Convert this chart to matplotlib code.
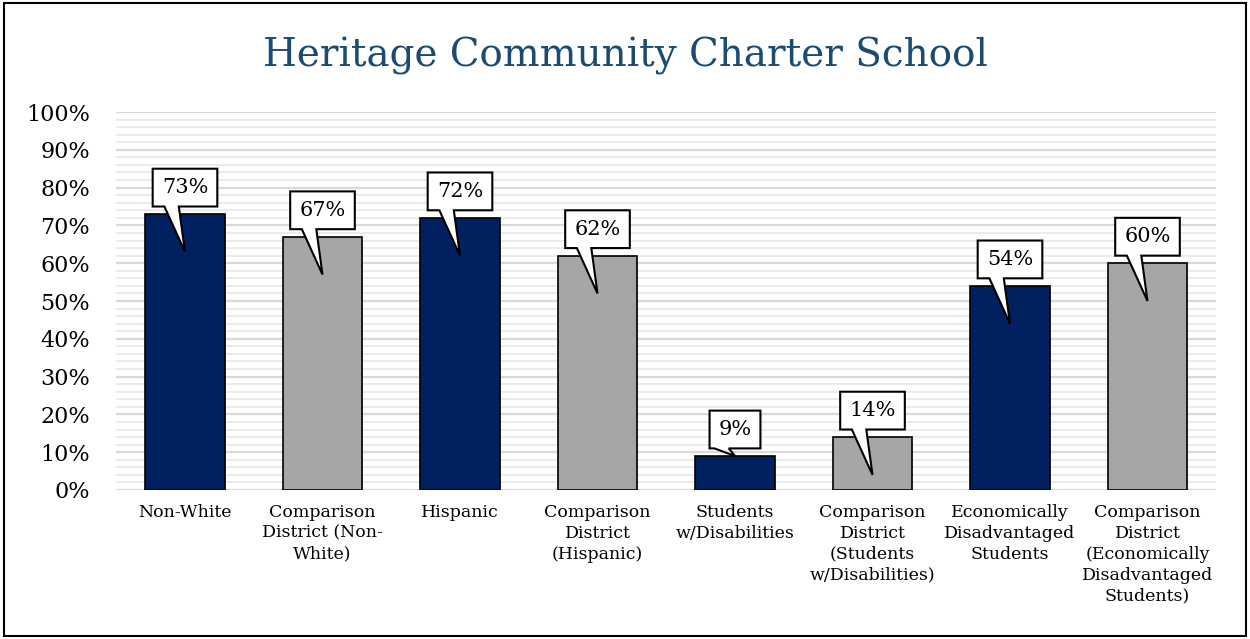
import numpy as np
import matplotlib.pyplot as plt
import matplotlib.patheffects as pe
from matplotlib.patches import Polygon, Rectangle
from matplotlib.ticker import MultipleLocator, PercentFormatter

# ==============================
# DATA
# ==============================
categories = [
    "Non-White",
    "Comparison\nDistrict (Non-\nWhite)",
    "Hispanic",
    "Comparison\nDistrict\n(Hispanic)",
    "Students\nw/Disabilities",
    "Comparison\nDistrict\n(Students\nw/Disabilities)",
    "Economically\nDisadvantaged\nStudents",
    "Comparison\nDistrict\n(Economically\nDisadvantaged\nStudents)",
]
values = [73, 67, 72, 62, 9, 14, 54, 60]
school_color = "#002060"
district_color = "#A6A6A6"
bar_colors = [school_color, district_color] * 4

plt.rcParams['font.family'] = ['DejaVu Serif']

# ==============================
# FIGURE
# ==============================
fig = plt.figure(figsize=(12.5, 6.39), dpi=100)
ax = fig.add_axes([0.093, 0.2332, 0.88, 0.5915])

x = np.arange(len(values))
bars = ax.bar(x, values, width=0.575, color=bar_colors, edgecolor="black",
              linewidth=1.2, zorder=3)
for b in bars:
    b.set_path_effects([pe.SimplePatchShadow(offset=(1, -3), alpha=0.25), pe.Normal()])

# callouts: box above the bar, tail pointing down into it
for xi, v in zip(x, values):
    label = f"{v}%"
    hw = 0.235 if len(label) > 2 else 0.185
    bot, top = v + 2, v + 12
    tip = v - 10 if v - 10 > 2 else v
    pts = [(xi - hw, top), (xi + hw, top), (xi + hw, bot),
           (xi - 0.045, bot), (xi, tip), (xi - 0.15, bot), (xi - hw, bot)]
    ax.add_patch(Polygon(pts, closed=True, facecolor="white", edgecolor="black",
                         linewidth=1.5, zorder=5))
    ax.text(xi, (bot + top) / 2, label, ha="center", va="center",
            fontsize=15, zorder=6)

# ==============================
# AXES
# ==============================
ax.set_xlim(-0.5, 7.5)
ax.set_ylim(0, 100)
ax.yaxis.set_major_locator(MultipleLocator(10))
ax.yaxis.set_minor_locator(MultipleLocator(2))
ax.yaxis.set_major_formatter(PercentFormatter(decimals=0))
ax.grid(axis="y", which="major", color="#D9D9D9", linewidth=1.6, zorder=0)
ax.grid(axis="y", which="minor", color="#E8E8E8", linewidth=1.2, zorder=0)
ax.set_axisbelow(True)
for s in ax.spines.values():
    s.set_visible(False)
ax.tick_params(axis="y", which="both", length=0, labelsize=16, pad=19)
ax.tick_params(axis="x", length=0, pad=10)
ax.set_xticks(x)
ax.set_xticklabels(categories, fontsize=12.5, linespacing=1.3, va="top")

fig.text(0.5, 0.913, "Heritage Community Charter School", ha="center",
         va="center", fontsize=28, color="#1B4A72")

# outer border
fig.patches.append(Rectangle((0.003, 0.004), 0.994, 0.992, transform=fig.transFigure,
                             fill=False, edgecolor="black", linewidth=1.5))

fig.savefig("out.png", dpi=100)
